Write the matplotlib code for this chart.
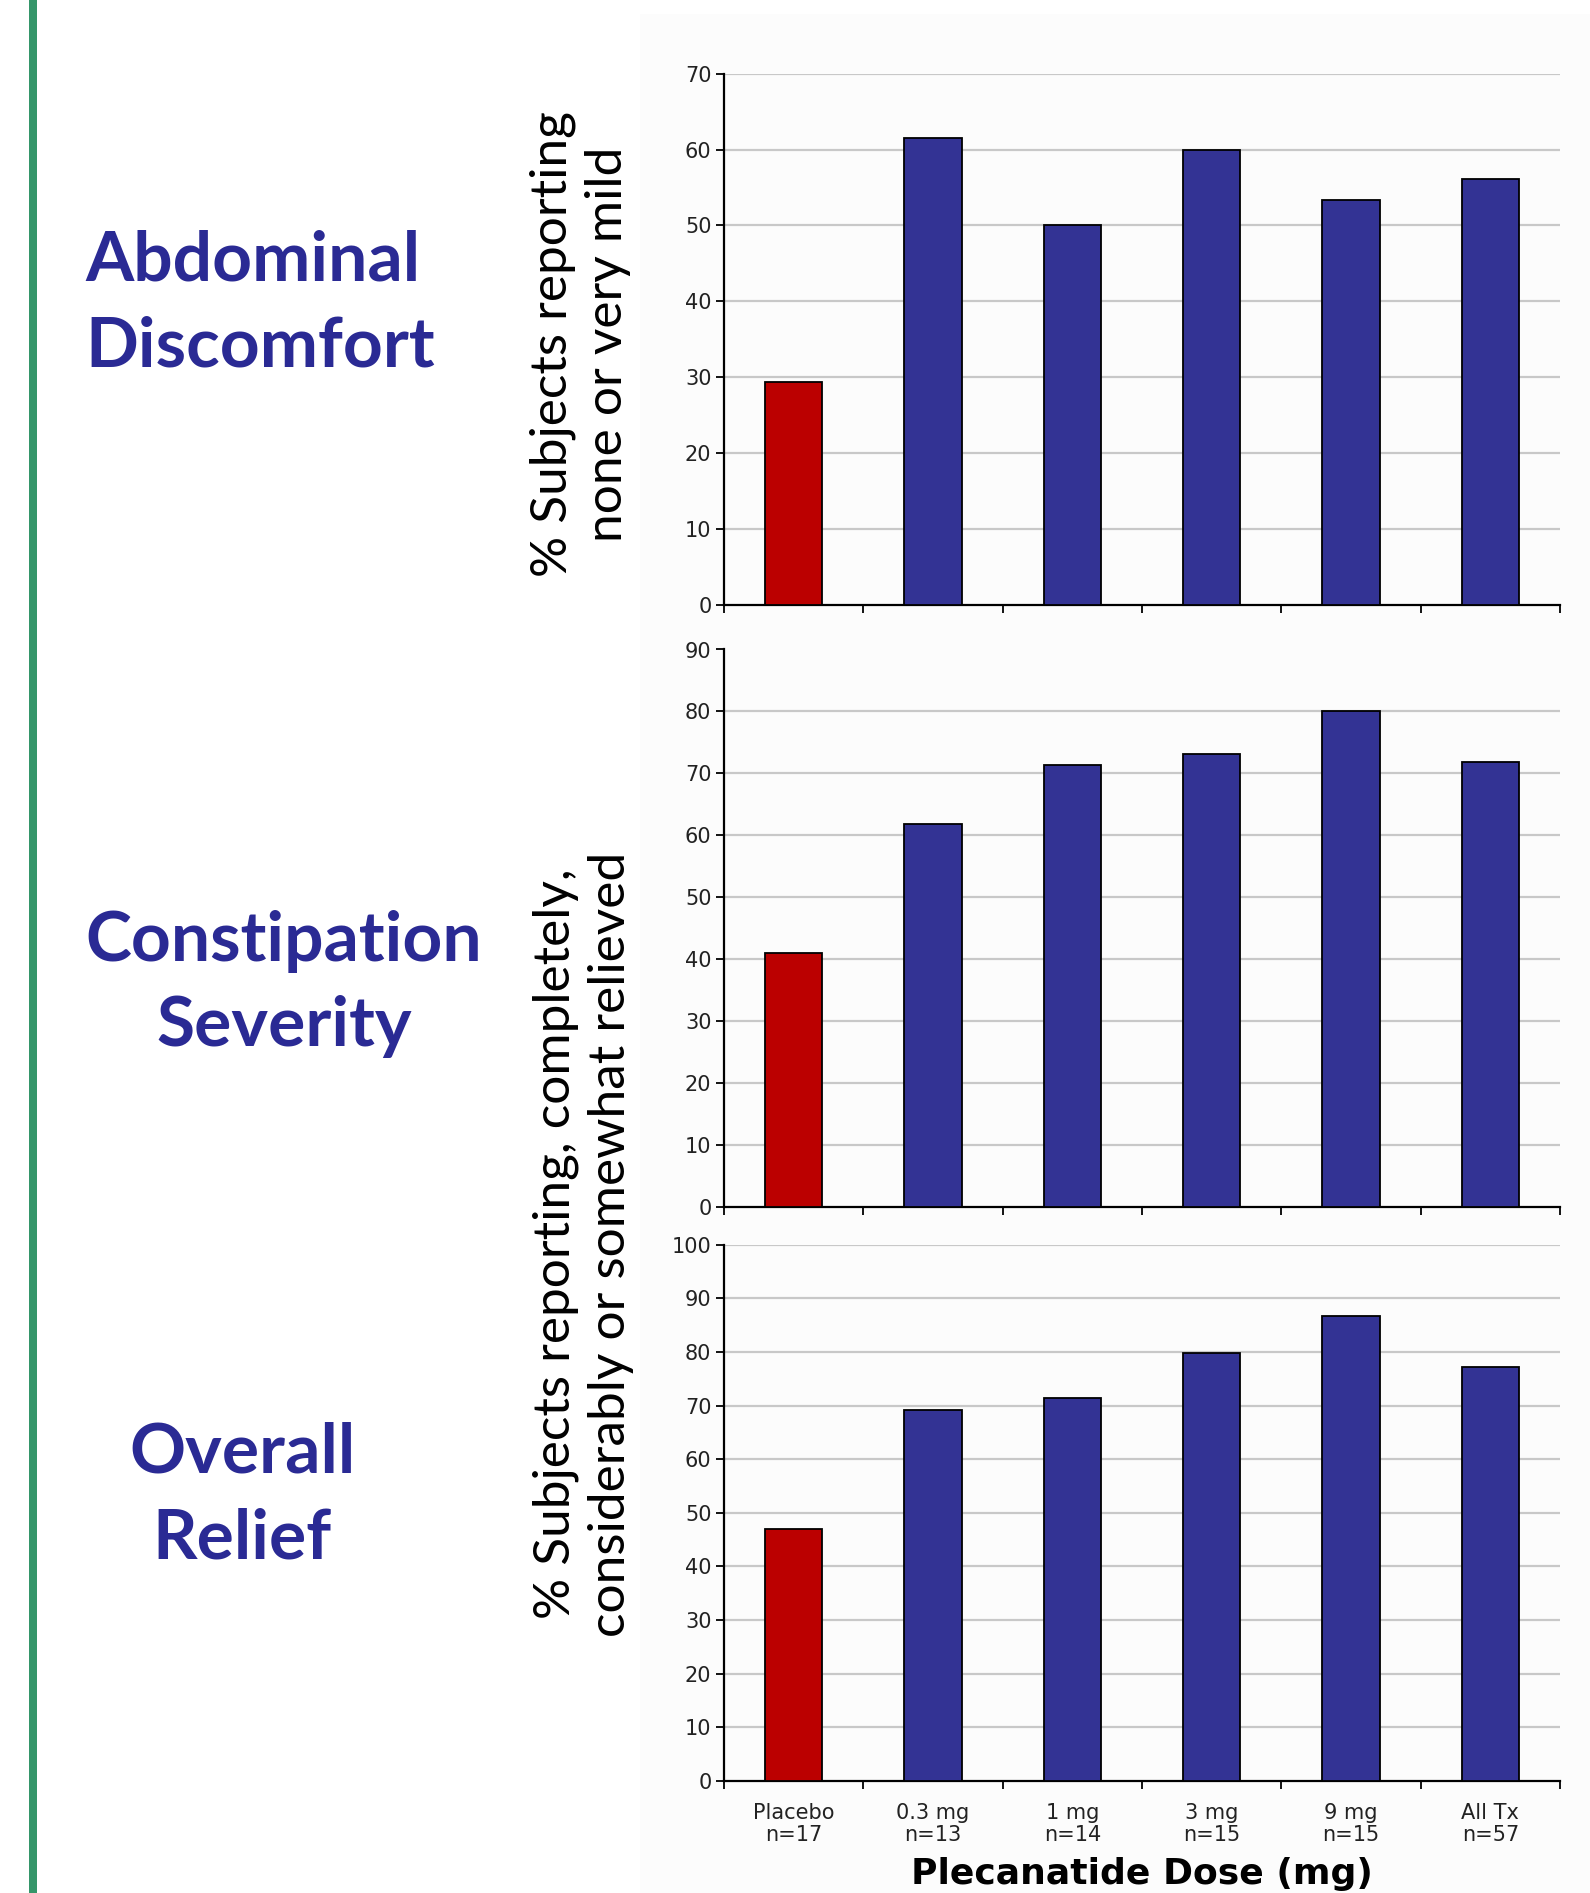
import matplotlib
matplotlib.use("Agg")
import matplotlib.pyplot as plt
from matplotlib.patches import Rectangle

# data
groups = ["Placebo\nn=17", "0.3 mg\nn=13", "1 mg\nn=14", "3 mg\nn=15", "9 mg\nn=15", "All Tx\nn=57"]
abdominal = [29.4, 61.5, 50.0, 60.0, 53.3, 56.1]
constipation = [41.0, 61.8, 71.4, 73.2, 80.0, 71.8]
overall = [47.0, 69.2, 71.4, 79.8, 86.7, 77.2]

panel_titles = ["Abdominal\nDiscomfort", "Constipation\nSeverity", "Overall\nRelief"]
ymax = [70, 90, 100]

red = "#bb0000"
blue = "#333394"
title_color = "#2a2a94"

fig = plt.figure(figsize=(15.9, 18.93), dpi=100)

# faint grey panel behind the charts
fig.patches.append(Rectangle((640 / 1590, 0), 1 - 640 / 1590, 1 - 14 / 1893,
                             transform=fig.transFigure, facecolor="#fcfcfc",
                             edgecolor="none", zorder=-10))
# green bar down the left side
fig.patches.append(Rectangle((29 / 1590, 0), 8 / 1590, 1,
                             transform=fig.transFigure, facecolor="#35966a",
                             edgecolor="none", zorder=-5))

left = 724 / 1590
width = (1560 - 724) / 1590
rects = [
    (left, 1 - 605 / 1893, width, (605 - 73.6) / 1893),
    (left, 1 - 1207 / 1893, width, (1207 - 649.5) / 1893),
    (left, 1 - 1781 / 1893, width, (1781 - 1244.7) / 1893),
]

series = [abdominal, constipation, overall]
x = list(range(len(groups)))
colors = [red] + [blue] * (len(groups) - 1)

tick_font = dict(fontsize=15, fontfamily="DejaVu Sans", color="#222222")

axes = []
for i, (vals, r) in enumerate(zip(series, rects)):
    ax = fig.add_axes(r)
    ax.set_facecolor("none")
    ax.bar(x, vals, width=0.41, color=colors, edgecolor="black", linewidth=1.3, zorder=3)
    ax.set_xlim(-0.5, len(groups) - 0.5)
    ax.set_ylim(0, ymax[i])
    ticks = list(range(0, ymax[i] + 1, 10))
    ax.set_yticks(ticks)
    ax.set_yticklabels([str(t) for t in ticks], **tick_font)
    for t in ticks[1:]:
        if i == 1 and t == ymax[i]:
            continue
        ax.axhline(t, color="#c8c8c8", linewidth=1.6, zorder=1)
    ax.set_xticks([k - 0.5 for k in range(len(groups) + 1)])
    ax.set_xticklabels([])
    ax.tick_params(axis="both", direction="out", length=6, width=1.3, color="black")
    ax.tick_params(axis="y", pad=3)
    for s in ["top", "right"]:
        ax.spines[s].set_visible(False)
    for s in ["left", "bottom"]:
        ax.spines[s].set_linewidth(1.6)
    axes.append(ax)

# category labels on the bottom panel
axb = axes[2]
axb.set_xticks(x, minor=True)
axb.set_xticklabels(groups, minor=True, linespacing=1.1, **tick_font)
axb.tick_params(axis="x", which="minor", length=0, pad=16)
axb.set_xlabel("Plecanatide Dose (mg)", fontsize=26, fontweight="bold",
               fontfamily="DejaVu Sans", labelpad=9)

# y-axis descriptions
fig.text(580 / 1590, 1 - 344 / 1893, "% Subjects reporting\nnone or very mild",
         rotation=90, ha="center", va="center", fontsize=37, fontfamily="Lato",
         linespacing=1.25)
fig.text(583 / 1590, 1 - 1244 / 1893,
         "% Subjects reporting, completely,\nconsiderably or somewhat relieved",
         rotation=90, ha="center", va="center", fontsize=37, fontfamily="Lato",
         linespacing=1.25)

# panel names on the left
fig.text(85 / 1590, 1 - 304 / 1893, panel_titles[0], ha="left", va="center",
         fontsize=50, fontweight="bold", fontfamily="Lato", color=title_color,
         linespacing=1.45)
fig.text(284 / 1590, 1 - 984 / 1893, panel_titles[1], ha="center", va="center",
         fontsize=50, fontweight="bold", fontfamily="Lato", color=title_color,
         multialignment="center", linespacing=1.45)
fig.text(242 / 1590, 1 - 1496 / 1893, panel_titles[2], ha="center", va="center",
         fontsize=50, fontweight="bold", fontfamily="Lato", color=title_color,
         multialignment="center", linespacing=1.45)

fig.savefig("out.png", dpi=100)
